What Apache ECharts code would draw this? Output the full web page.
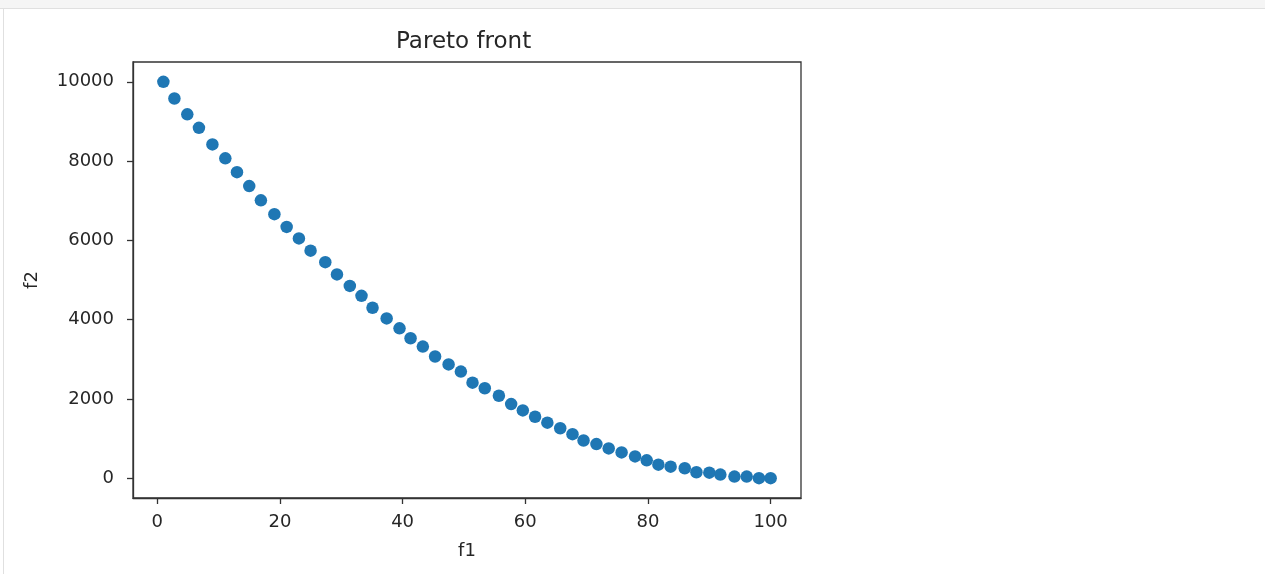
<!DOCTYPE html>
<html>
<head>
<meta charset="utf-8">
<script src="https://cdn.jsdelivr.net/npm/echarts@6/dist/echarts.min.js"></script>
<style>
  html, body { margin: 0; padding: 0; background: #fff; }
  #chart { width: 1265px; height: 574px; }
</style>
</head>
<body>
<div id="chart"></div>
<script>
// points
const f1Values = [
  1.0, 2.8, 4.9, 6.8, 9.0, 11.1, 13.0, 15.0, 16.9, 19.1,
  21.1, 23.1, 25.0, 27.4, 29.3, 31.4, 33.3, 35.1, 37.4, 39.5,
  41.3, 43.3, 45.3, 47.5, 49.5, 51.4, 53.4, 55.7, 57.7, 59.6,
  61.6, 63.6, 65.7, 67.7, 69.5, 71.6, 73.6, 75.7, 77.9, 79.8,
  81.7, 83.7, 86.0, 87.9, 90.0, 91.8, 94.1, 96.1, 98.1, 100.0
];
const f2Values = [
  10000, 9580, 9180, 8840, 8420, 8070, 7720, 7370, 7010, 6660,
  6340, 6050, 5740, 5450, 5140, 4850, 4600, 4300, 4030, 3780,
  3530, 3320, 3070, 2870, 2690, 2410, 2270, 2080, 1870, 1710,
  1550, 1400, 1260, 1110, 950, 860, 750, 650, 550, 450,
  340, 290, 250, 150, 140, 90, 40, 40, 0, 0
];
const xTicks = [0, 20, 40, 60, 80, 100];
const yTicks = [0, 2000, 4000, 6000, 8000, 10000];

const chart = echarts.init(document.getElementById('chart'));

const tickFont = {
  fontFamily: 'DejaVu Sans',
  fontSize: 18,
  color: '#262626'
};

const option = {
  animation: false,
  backgroundColor: '#fff',
  title: {
    text: 'Pareto front',
    left: 396,
    top: 31,
    padding: 0,
    textStyle: {
      fontFamily: 'DejaVu Sans',
      fontSize: 23,
      fontWeight: 'normal',
      color: '#262626'
    }
  },
  graphic: [
    // notebook cell chrome
    { type: 'rect', shape: { x: 0, y: 0, width: 1265, height: 8 }, style: { fill: '#f5f5f5' }, silent: true },
    { type: 'rect', shape: { x: 0, y: 8, width: 1265, height: 1 }, style: { fill: '#e0e0e0' }, silent: true },
    { type: 'rect', shape: { x: 3, y: 9, width: 1, height: 565 }, style: { fill: '#e0e0e0' }, silent: true }
  ],
  grid: {
    left: 133,
    right: 464,
    top: 62,
    bottom: 76,
    show: true,
    borderColor: '#333',
    borderWidth: 1.3
  },
  xAxis: {
    type: 'value',
    min: -3.95,
    max: 104.95,
    name: 'f1',
    nameLocation: 'middle',
    nameGap: 44,
    nameTextStyle: tickFont,
    splitLine: { show: false },
    axisLine: { show: true, onZero: false, lineStyle: { color: '#333', width: 1.3 } },
    axisTick: { show: true, inside: false, length: 6, customValues: xTicks, lineStyle: { color: '#333', width: 1.3 } },
    axisLabel: { ...tickFont, margin: 15, customValues: xTicks }
  },
  yAxis: {
    type: 'value',
    min: -500,
    max: 10500,
    name: 'f2',
    nameLocation: 'middle',
    nameGap: 92,
    nameTextStyle: tickFont,
    splitLine: { show: false },
    axisLine: { show: true, onZero: false, lineStyle: { color: '#333', width: 1.3 } },
    axisTick: { show: true, inside: false, length: 6, customValues: yTicks, lineStyle: { color: '#333', width: 1.3 } },
    axisLabel: { ...tickFont, margin: 19, customValues: yTicks, formatter: (v) => String(v) }
  },
  series: [
    {
      type: 'scatter',
      symbol: 'circle',
      symbolSize: 12.5,
      itemStyle: { color: '#1f77b4', opacity: 1 },
      data: f1Values.map((x, i) => [x, f2Values[i]])
    }
  ]
};

chart.setOption(option);
</script>
</body>
</html>
